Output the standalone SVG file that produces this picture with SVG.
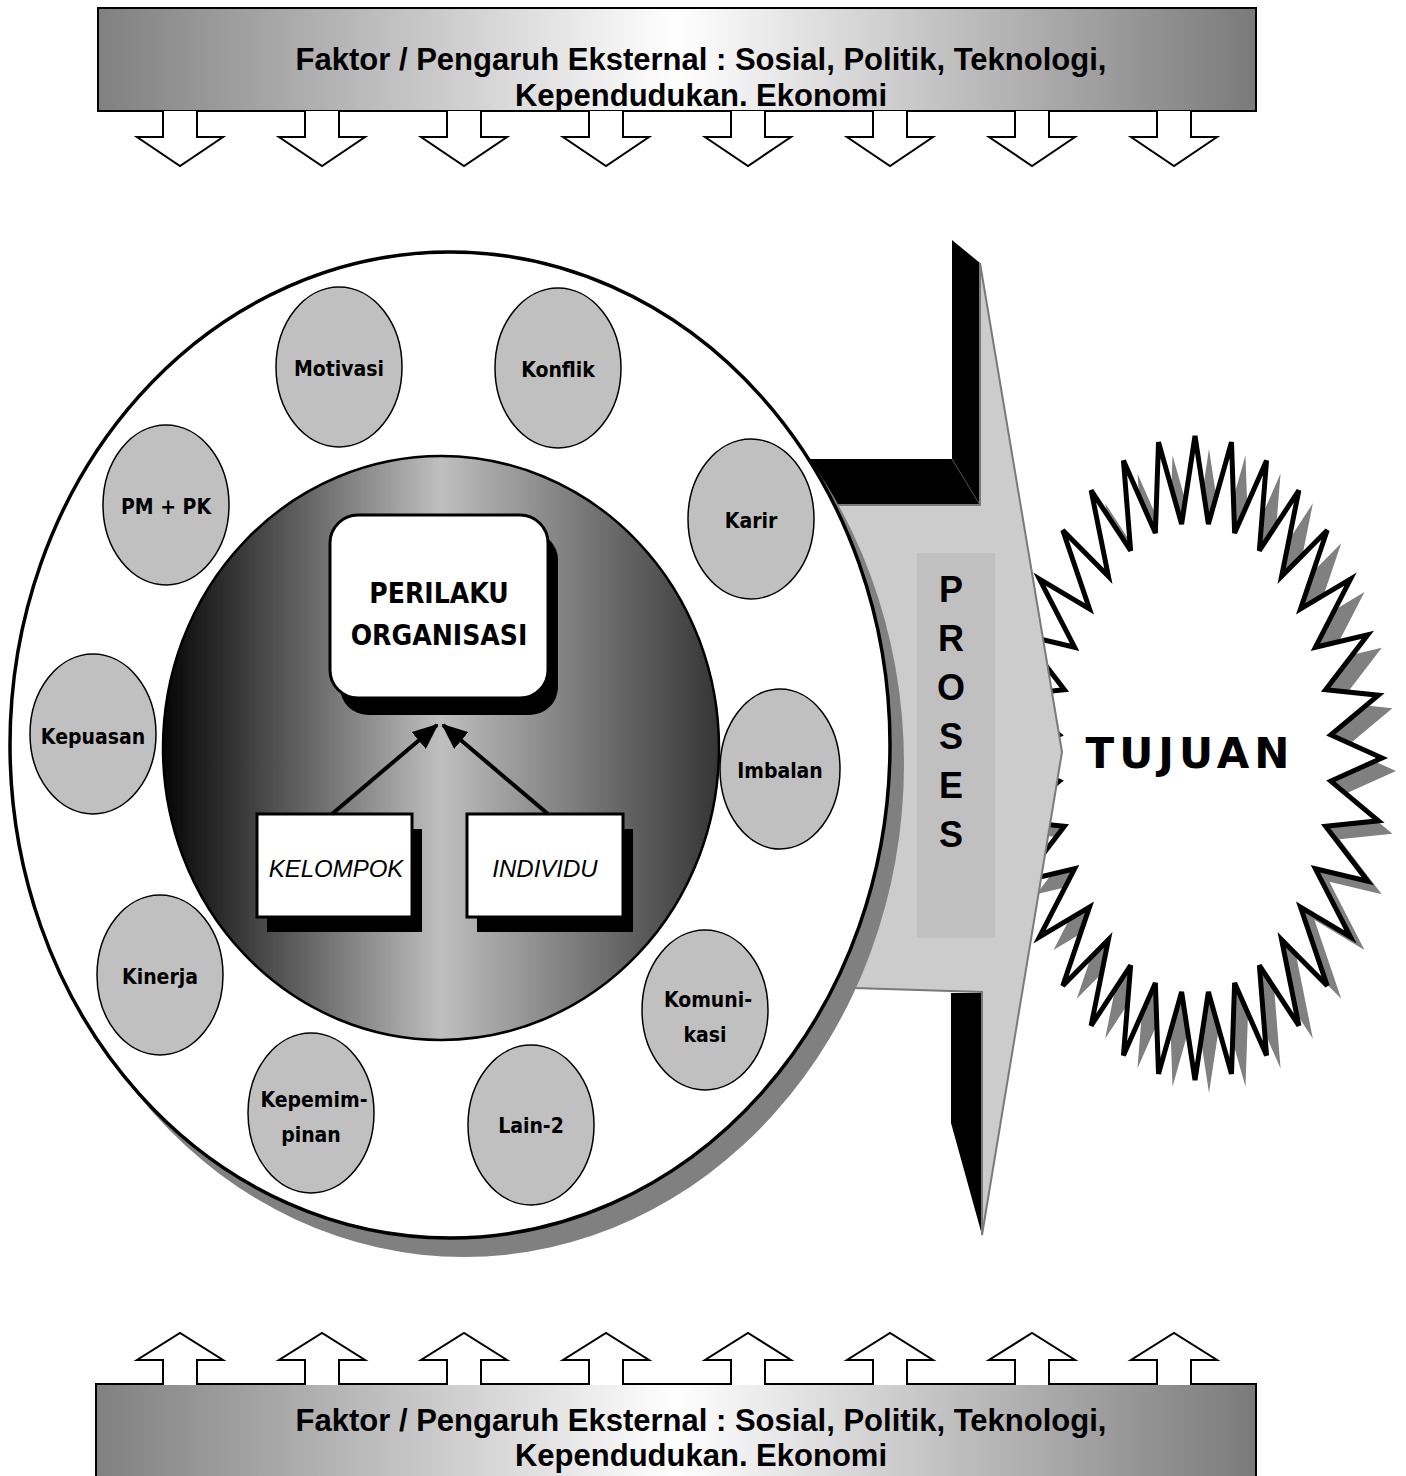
<svg xmlns="http://www.w3.org/2000/svg" width="1406" height="1476" viewBox="0 0 1406 1476">
  <style>
    .banner-text { font-family: "Liberation Sans", Arial, sans-serif; font-weight: bold; font-size: 31px; fill: #000; text-anchor: middle; }
    .ext-arrow { fill: #fff; stroke: #000; stroke-width: 2; stroke-linejoin: miter; }
    .factor { fill: #c0c0c0; stroke: #000; stroke-width: 1.5; }
    .factor-label { font-family: "DejaVu Sans Condensed", "DejaVu Sans", sans-serif; font-weight: bold; font-size: 21px; fill: #000; text-anchor: middle; }
    .unit-box { fill: #fff; stroke: #000; stroke-width: 3; }
    .unit-shadow { fill: #000; }
    .unit-label { font-family: "Liberation Sans", Arial, sans-serif; font-style: italic; font-size: 24px; fill: #000; text-anchor: middle; }
    .title-label { font-family: "DejaVu Sans Condensed", "DejaVu Sans", sans-serif; font-weight: bold; font-size: 28px; fill: #000; text-anchor: middle; }
    .proses-letter { font-family: "Liberation Sans", Arial, sans-serif; font-weight: bold; font-size: 36px; fill: #000; text-anchor: middle; }
    .goal-label { font-family: "Comic Sans MS", "DejaVu Sans", sans-serif; font-weight: bold; font-size: 42px; letter-spacing: 5px; fill: #000; text-anchor: middle; }
    .link { stroke: #000; stroke-width: 4; fill: none; }
  </style>
  <defs>
    <linearGradient id="bannerFill" x1="0" y1="0" x2="1" y2="0">
      <stop offset="0" stop-color="#808080"/>
      <stop offset="0.5" stop-color="#ffffff"/>
      <stop offset="1" stop-color="#7a7a7a"/>
    </linearGradient>
    <linearGradient id="coreFill" x1="0" y1="0" x2="1" y2="0">
      <stop offset="0" stop-color="#050505"/>
      <stop offset="0.5" stop-color="#bfbfbf"/>
      <stop offset="1" stop-color="#353535"/>
    </linearGradient>
    <clipPath id="topBannerClip">
      <rect x="98" y="8" width="1158" height="102"/>
    </clipPath>
    <marker id="head" markerUnits="userSpaceOnUse" markerWidth="26" markerHeight="22" refX="24" refY="11" orient="auto">
      <path d="M0,0 L26,11 L0,22 Z" fill="#000"/>
    </marker>
    <!-- 32-point star on a unit circle, inner radius 0.73 -->
    <polygon id="star32" vector-effect="non-scaling-stroke" points="0,-1 0.0716,-0.7265 0.1951,-0.9808 0.2119,-0.6986 0.3827,-0.9239 0.3441,-0.6438 0.5556,-0.8315 0.4631,-0.5643 0.7071,-0.7071 0.5643,-0.4631 0.8315,-0.5556 0.6438,-0.3441 0.9239,-0.3827 0.6986,-0.2119 0.9808,-0.1951 0.7265,-0.0716 1,0 0.7265,0.0716 0.9808,0.1951 0.6986,0.2119 0.9239,0.3827 0.6438,0.3441 0.8315,0.5556 0.5643,0.4631 0.7071,0.7071 0.4631,0.5643 0.5556,0.8315 0.3441,0.6438 0.3827,0.9239 0.2119,0.6986 0.1951,0.9808 0.0716,0.7265 0,1 -0.0716,0.7265 -0.1951,0.9808 -0.2119,0.6986 -0.3827,0.9239 -0.3441,0.6438 -0.5556,0.8315 -0.4631,0.5643 -0.7071,0.7071 -0.5643,0.4631 -0.8315,0.5556 -0.6438,0.3441 -0.9239,0.3827 -0.6986,0.2119 -0.9808,0.1951 -0.7265,0.0716 -1,0 -0.7265,-0.0716 -0.9808,-0.1951 -0.6986,-0.2119 -0.9239,-0.3827 -0.6438,-0.3441 -0.8315,-0.5556 -0.5643,-0.4631 -0.7071,-0.7071 -0.4631,-0.5643 -0.5556,-0.8315 -0.3441,-0.6438 -0.3827,-0.9239 -0.2119,-0.6986 -0.1951,-0.9808 -0.0716,-0.7265"/>
    <path id="downArrow" class="ext-arrow" d="M-17,111 V137 H-43 L0,166 L43,137 H17 V111"/>
    <path id="upArrow" class="ext-arrow" d="M-17,1385 V1360 H-43 L0,1333 L43,1360 H17 V1385"/>
  </defs>

  <rect width="1406" height="1476" fill="#fff"/>

  <!-- external factors, top -->
  <g id="external-top">
    <rect x="98" y="8" width="1158" height="103" fill="url(#bannerFill)" stroke="#000" stroke-width="2"/>
    <g clip-path="url(#topBannerClip)">
      <text class="banner-text" x="701" y="70">Faktor / Pengaruh Eksternal : Sosial, Politik, Teknologi,</text>
      <text class="banner-text" x="701" y="106">Kependudukan. Ekonomi</text>
    </g>
    <use href="#downArrow" x="180"/>
    <use href="#downArrow" x="322"/>
    <use href="#downArrow" x="464"/>
    <use href="#downArrow" x="606"/>
    <use href="#downArrow" x="748"/>
    <use href="#downArrow" x="890"/>
    <use href="#downArrow" x="1032"/>
    <use href="#downArrow" x="1174"/>
  </g>

  <!-- external factors, bottom -->
  <g id="external-bottom">
    <rect x="96" y="1384" width="1160" height="100" fill="url(#bannerFill)" stroke="#000" stroke-width="2"/>
    <text class="banner-text" x="701" y="1431">Faktor / Pengaruh Eksternal : Sosial, Politik, Teknologi,</text>
    <text class="banner-text" x="701" y="1466">Kependudukan. Ekonomi</text>
    <use href="#upArrow" x="180"/>
    <use href="#upArrow" x="322"/>
    <use href="#upArrow" x="464"/>
    <use href="#upArrow" x="606"/>
    <use href="#upArrow" x="748"/>
    <use href="#upArrow" x="890"/>
    <use href="#upArrow" x="1032"/>
    <use href="#upArrow" x="1174"/>
  </g>

  <!-- goal starburst -->
  <g id="tujuan">
    <use href="#star32" transform="translate(1209,771) scale(187,322)" fill="#808080" stroke="none"/>
    <use href="#star32" transform="translate(1195,758) scale(187,322)" fill="#fff" stroke="#000" stroke-width="5"/>
    <text class="goal-label" x="1190" y="768">TUJUAN</text>
  </g>

  <!-- process arrow -->
  <g id="proses">
    <polygon points="952,240 980,263 980,505 790,505 790,459 952,459" fill="#000"/>
    <line x1="952" y1="459" x2="980" y2="505" stroke="#555" stroke-width="1"/>
    <polygon points="951,993 982,993 982,1235 951,1123" fill="#000"/>
    <polygon points="790,505 980,505 980,263 1062,752 982,1235 982,992 790,986" fill="#cccccc" stroke="#7a7a7a" stroke-width="2" stroke-linejoin="miter"/>
    <rect x="917" y="553" width="78" height="385" fill="#c0c0c0"/>
    <text class="proses-letter" x="951" y="602">P</text>
    <text class="proses-letter" x="951" y="651">R</text>
    <text class="proses-letter" x="951" y="700">O</text>
    <text class="proses-letter" x="951" y="749">S</text>
    <text class="proses-letter" x="951" y="798">E</text>
    <text class="proses-letter" x="951" y="847">S</text>
  </g>

  <!-- organisation ring -->
  <g id="organisasi">
    <ellipse cx="464" cy="764" rx="440" ry="493" fill="#808080"/>
    <ellipse cx="450" cy="745" rx="440" ry="493" fill="#fff" stroke="#000" stroke-width="3.5"/>
  </g>

  <g id="motivasi">
    <ellipse class="factor" cx="339" cy="367" rx="63" ry="80"/>
    <text class="factor-label" x="339" y="376">Motivasi</text>
  </g>
  <g id="konflik">
    <ellipse class="factor" cx="558" cy="368" rx="63" ry="80"/>
    <text class="factor-label" x="558" y="377">Konflik</text>
  </g>
  <g id="pm-pk">
    <ellipse class="factor" cx="166" cy="505" rx="63" ry="80"/>
    <text class="factor-label" x="166" y="514">PM + PK</text>
  </g>
  <g id="karir">
    <ellipse class="factor" cx="751" cy="519" rx="63" ry="80"/>
    <text class="factor-label" x="751" y="528">Karir</text>
  </g>
  <g id="kepuasan">
    <ellipse class="factor" cx="93" cy="734" rx="63" ry="80"/>
    <text class="factor-label" x="93" y="744">Kepuasan</text>
  </g>
  <g id="imbalan">
    <ellipse class="factor" cx="780" cy="769" rx="60" ry="80"/>
    <text class="factor-label" x="780" y="778">Imbalan</text>
  </g>
  <g id="kinerja">
    <ellipse class="factor" cx="160" cy="975" rx="63" ry="80"/>
    <text class="factor-label" x="160" y="984">Kinerja</text>
  </g>
  <g id="komunikasi">
    <ellipse class="factor" cx="705" cy="1010" rx="63" ry="80"/>
    <text class="factor-label" x="708" y="1007">Komuni-</text>
    <text class="factor-label" x="705" y="1042">kasi</text>
  </g>
  <g id="kepemimpinan">
    <ellipse class="factor" cx="311" cy="1113" rx="63" ry="80"/>
    <text class="factor-label" x="314" y="1107">Kepemim-</text>
    <text class="factor-label" x="311" y="1142">pinan</text>
  </g>
  <g id="lain-2">
    <ellipse class="factor" cx="531" cy="1125" rx="63" ry="80"/>
    <text class="factor-label" x="531" y="1133">Lain-2</text>
  </g>

  <!-- behaviour core -->
  <g id="inti">
    <ellipse cx="441" cy="748" rx="278" ry="292" fill="url(#coreFill)" stroke="#000" stroke-width="2.5"/>
  </g>

  <g id="perilaku-organisasi">
    <rect class="unit-shadow" x="340" y="532" width="218" height="183" rx="28"/>
    <rect class="unit-box" x="330" y="515" width="218" height="183" rx="28"/>
    <text class="title-label" x="439" y="603">PERILAKU</text>
    <text class="title-label" x="439" y="645">ORGANISASI</text>
  </g>

  <g id="kelompok">
    <rect class="unit-shadow" x="267" y="829" width="155" height="103"/>
    <rect class="unit-box" x="257" y="814" width="155" height="103"/>
    <text class="unit-label" x="336" y="877">KELOMPOK</text>
  </g>

  <g id="individu">
    <rect class="unit-shadow" x="477" y="829" width="156" height="103"/>
    <rect class="unit-box" x="467" y="814" width="156" height="103"/>
    <text class="unit-label" x="545" y="877">INDIVIDU</text>
  </g>

  <g id="connectors">
    <line class="link" x1="332" y1="814" x2="437" y2="725" marker-end="url(#head)"/>
    <line class="link" x1="548" y1="814" x2="443" y2="725" marker-end="url(#head)"/>
  </g>
</svg>
